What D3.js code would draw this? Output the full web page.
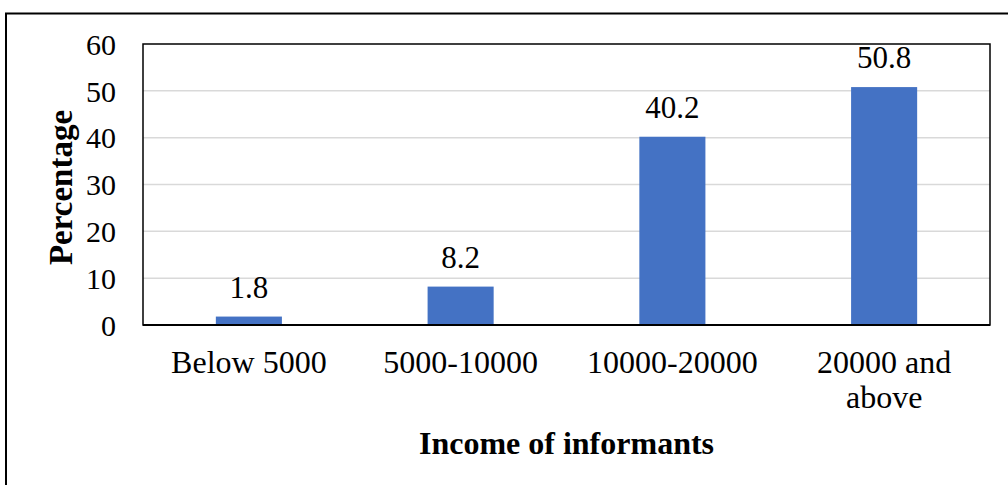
<!DOCTYPE html>
<html>
<head>
<meta charset="utf-8">
<script src="https://cdn.jsdelivr.net/npm/d3@7"></script>
<style>
  html, body { margin: 0; padding: 0; background: #fff; }
  svg text { font-family: "Liberation Serif", "Times New Roman", serif; fill: #000; }
</style>
</head>
<body>
<svg id="chart" width="1008" height="485"></svg>
<script>
// Income distribution of informants (percent)
const categories = ["Below 5000", "5000-10000", "10000-20000", "20000 and above"];
const categoryLines = [["Below 5000"], ["5000-10000"], ["10000-20000"], ["20000 and", "above"]];
const percentages = [1.8, 8.2, 40.2, 50.8];
const yTicks = [0, 10, 20, 30, 40, 50, 60];
const xTitle = "Income of informants";
const yTitle = "Percentage";

const svg = d3.select("#chart");
const plot = { left: 143, right: 990, top: 44, bottom: 325 };

// outer frame (top and left edges)
svg.append("path")
  .attr("d", "M6,490 V13.5 H1010")
  .attr("fill", "none").attr("stroke", "#000").attr("stroke-width", 2);

const x = d3.scaleBand()
  .domain(categories)
  .range([plot.left, plot.right])
  .paddingInner(0.688)
  .paddingOuter(0.344);

const y = d3.scaleLinear().domain([0, 60]).range([plot.bottom, plot.top]);

// gridlines
svg.append("g").selectAll("line").data(yTicks.filter(t => t > 0 && t < 60)).join("line")
  .attr("x1", plot.left).attr("x2", plot.right)
  .attr("y1", d => y(d)).attr("y2", d => y(d))
  .attr("stroke", "#d9d9d9").attr("stroke-width", 1.5);

// bars
svg.append("g").selectAll("rect").data(percentages).join("rect")
  .attr("x", (d, i) => x(categories[i]))
  .attr("width", x.bandwidth())
  .attr("y", d => y(d))
  .attr("height", d => y(0) - y(d))
  .attr("fill", "#4472c4");

// value labels
svg.append("g").selectAll("text").data(percentages).join("text")
  .attr("x", (d, i) => x(categories[i]) + x.bandwidth() / 2)
  .attr("y", d => y(d) - 19)
  .attr("text-anchor", "middle")
  .attr("font-size", 31)
  .text(d => d.toFixed(1));

// plot frame
svg.append("rect")
  .attr("x", plot.left).attr("y", plot.top)
  .attr("width", plot.right - plot.left).attr("height", plot.bottom - plot.top)
  .attr("fill", "none").attr("stroke", "#000").attr("stroke-width", 1.5);
svg.append("line")
  .attr("x1", plot.left).attr("x2", plot.right)
  .attr("y1", y(0)).attr("y2", y(0))
  .attr("stroke", "#000").attr("stroke-width", 2);

// y axis tick labels
const yAxis = d3.axisLeft(y).tickValues(yTicks).tickSize(0).tickPadding(27);
const yg = svg.append("g").attr("transform", `translate(${plot.left},0)`).call(yAxis);
yg.attr("font-family", null).attr("font-size", null);
yg.select(".domain").remove();
yg.selectAll("text")
  .attr("font-size", 30).attr("fill", "#000").attr("dy", "0.34em");

// category labels
const cg = svg.append("g");
categoryLines.forEach((lines, i) => {
  const t = cg.append("text")
    .attr("x", x(categories[i]) + x.bandwidth() / 2)
    .attr("y", 373)
    .attr("text-anchor", "middle")
    .attr("font-size", 32);
  lines.forEach((ln, j) => {
    t.append("tspan")
      .attr("x", x(categories[i]) + x.bandwidth() / 2)
      .attr("dy", j === 0 ? 0 : 35)
      .text(ln);
  });
});

// axis titles
svg.append("text")
  .attr("x", (plot.left + plot.right) / 2).attr("y", 454)
  .attr("text-anchor", "middle")
  .attr("font-size", 32).attr("font-weight", "bold")
  .text(xTitle);

svg.append("text")
  .attr("transform", `translate(72,${(plot.top + plot.bottom) / 2 + 3}) rotate(-90)`)
  .attr("text-anchor", "middle")
  .attr("font-size", 33).attr("font-weight", "bold")
  .text(yTitle);
</script>
</body>
</html>
